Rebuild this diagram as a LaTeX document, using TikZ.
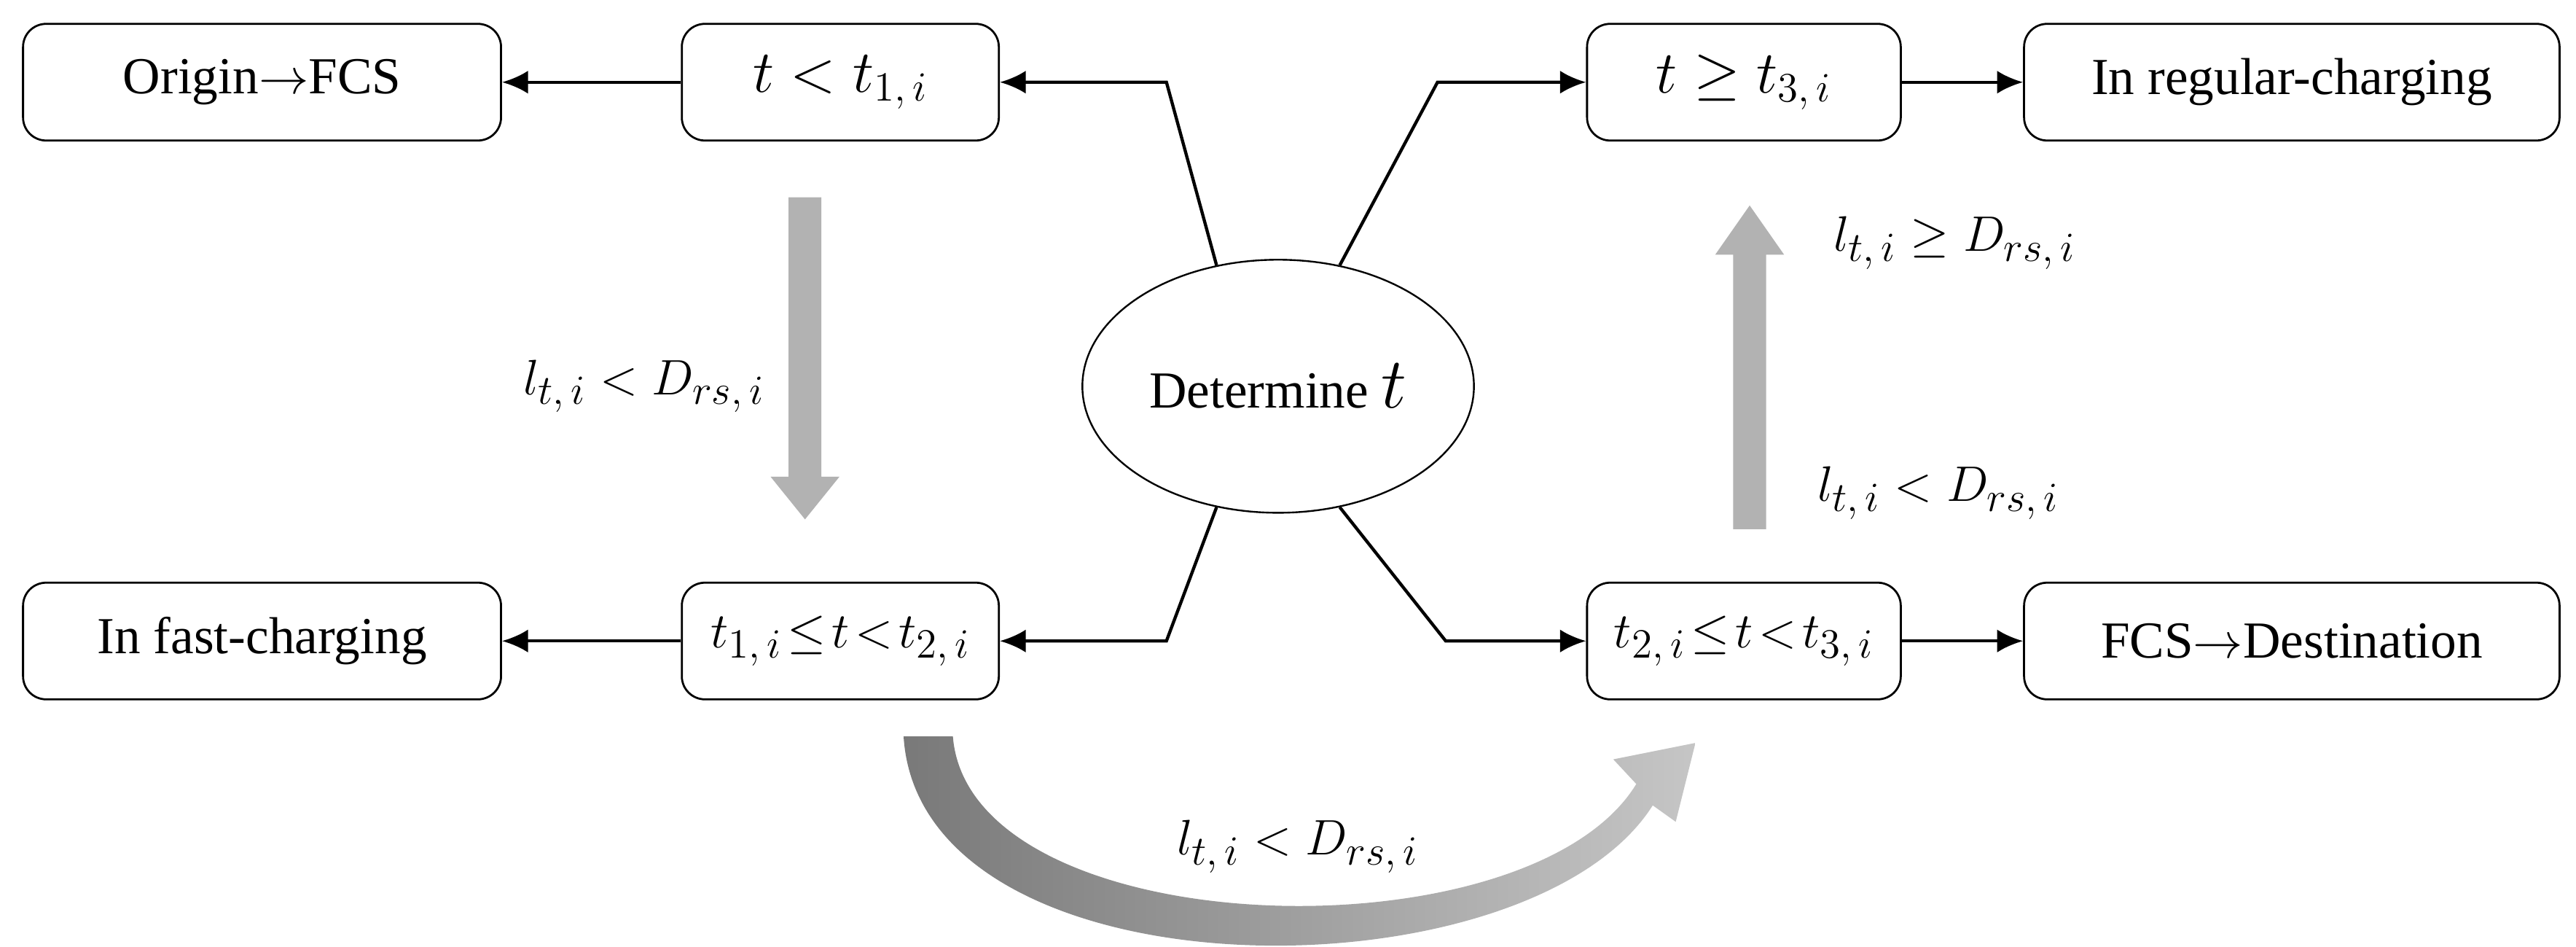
\documentclass[tikz,border=0pt]{standalone}
\usepackage{fontspec}
\setmainfont{Liberation Serif}
\usetikzlibrary{shapes.geometric,arrows.meta}
\begin{document}
\begin{tikzpicture}[x=0.02cm,y=-0.02cm,
  box/.style={draw,rounded corners=8pt,line width=0.7pt,minimum height=1.42cm,inner sep=0pt,font=\fontsize{18}{21}\selectfont},
  mbox/.style={box,font=\fontsize{21}{24}\selectfont},
  nbox/.style={box,font=\fontsize{19}{22}\selectfont},
  conn/.style={line width=1.1pt,-{Latex[length=9pt,width=8pt]}},
  lab/.style={font=\fontsize{19}{22}\selectfont}]
\useasboundingbox (0,0) rectangle (1568,576);
\node[box,minimum width=5.82cm] (o) at (159.5,50) {Origin$\rightarrow$FCS};
\node[mbox,minimum width=3.86cm] (a) at (511.5,50) {$t<t_{1,\,i}$};
\node[mbox,minimum width=3.82cm] (c) at (1061.5,50) {$t\geq t_{3,\,i}$};
\node[box,minimum width=6.52cm] (r) at (1395,50) {In regular-charging};
\node[box,minimum width=5.82cm] (f) at (159.5,390) {In fast-charging};
\node[nbox,minimum width=3.86cm] (b) at (511.5,390) {$t_{1,\,i}\mskip-3mu\leq\mskip-3mu t\mskip-3mu<\mskip-3mu t_{2,\,i}$};
\node[nbox,minimum width=3.82cm] (d) at (1061.5,390) {$t_{2,\,i}\mskip-3mu\leq\mskip-3mu t\mskip-3mu<\mskip-3mu t_{3,\,i}$};
\node[box,minimum width=6.52cm] (g) at (1395,390) {FCS$\rightarrow$Destination};
\node[draw,ellipse,line width=0.6pt,minimum width=4.4cm,minimum height=3.08cm,font=\fontsize{18}{21}\selectfont] (e) at (778,235) {Determine \fontsize{26}{30}\selectfont$t$};
\coordinate (p1) at (710,50); \coordinate (p2) at (875,50);
\coordinate (p3) at (710,390); \coordinate (p4) at (880,390);
\draw[conn] (e.117) -- (p1) -- (a.east);
\draw[conn] (e.63) -- (p2) -- (c.west);
\draw[conn] (e.-117) -- (p3) -- (b.east);
\draw[conn] (e.-63) -- (p4) -- (d.west);
\draw[conn] (a.west) -- (o.east);
\draw[conn] (b.west) -- (f.east);
\draw[conn] (c.east) -- (r.west);
\draw[conn] (d.east) -- (g.west);
% straight gray arrows
\fill[gray!60] (480,120) -- (500,120) -- (500,290) -- (511,290) -- (490,316) -- (469,290) -- (480,290) -- cycle;
\fill[gray!60] (1055,322) -- (1075,322) -- (1075,155) -- (1086,155) -- (1065,125) -- (1044,155) -- (1055,155) -- cycle;
% curved arrow
\shade[left color=gray!95!black,right color=gray!45]
  (550,448) .. controls (560,610) and (930,610) .. (1006,490) -- (1020,500) -- (1032,452) -- (982,462) -- (996,477)
  .. controls (930,585) and (590,575) .. (580,448) -- cycle;
\node[lab] (l1) at (392,235) {$l_{t,\,i}<D_{rs,\,i}$};
\node[lab] (l2) at (1190,148) {$l_{t,\,i}\geq D_{rs,\,i}$};
\node[lab] (l3) at (1180,300) {$l_{t,\,i}<D_{rs,\,i}$};
\node[lab] (l4) at (790,515) {$l_{t,\,i}<D_{rs,\,i}$};
\end{tikzpicture}
\end{document}
